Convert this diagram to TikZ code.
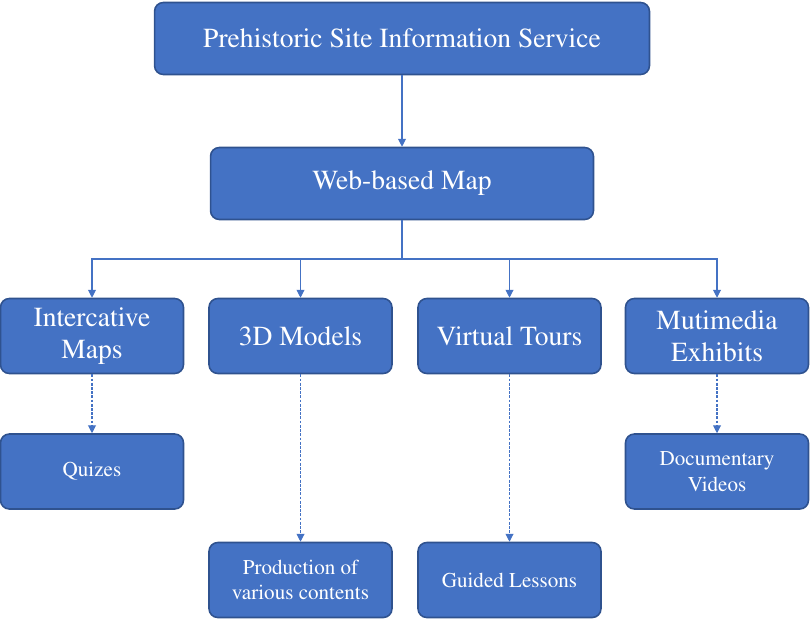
\documentclass[tikz,border=0pt]{standalone}
\usepackage[T1]{fontenc}
\usepackage{times}
\usepackage{xcolor}
\usetikzlibrary{arrows.meta, positioning}
\definecolor{boxblue}{HTML}{4472C4}
\definecolor{boxedge}{HTML}{2F528F}

\begin{document}
\begin{tikzpicture}[
    x=0.02cm, y=-0.02cm,
    caja/.style={draw=boxedge, fill=boxblue, rounded corners=5pt,
                 line width=0.9pt, text=white, align=center,
                 minimum width=3.66cm, minimum height=1.5cm,
                 inner sep=0pt, font=\fontsize{15.7}{18}\selectfont},
    hoja/.style={caja, font=\fontsize{12}{14.5}\selectfont},
    rel/.style={-{Triangle[length=4.5pt, width=4.5pt]}, draw=boxblue,
                line width=0.6pt},
    relp/.style={rel, dash pattern=on 1.6pt off 0.8pt},
]
\useasboundingbox (0,0) rectangle (810,619);

%% Nivel superior
\node[caja, minimum width=9.9cm, minimum height=1.44cm] at (402, 38.5) (top)
     {Prehistoric Site Information Service};
\node[caja, minimum width=7.66cm, minimum height=1.44cm] at (402, 183.5) (web)
     {Web-based Map};

%% Nivel medio
\node[caja] at (92, 336)    (maps)   {Intercative\\Maps};
\node[caja] at (300.5, 336) (models) {3D Models};
\node[caja] at (509.5, 336) (tours)  {Virtual Tours};
\node[caja] at (717, 336)   (media)  {Mutimedia\\Exhibits};

%% Nivel inferior
\node[hoja] at (92, 471.5)  (quiz)  {Quizes};
\node[hoja] at (300.5, 580) (prod)  {Production of\\various contents};
\node[hoja] at (509.5, 580) (guide) {Guided Lessons};
\node[hoja] at (717, 471.5) (docu)  {Documentary\\Videos};

%% Conectores
\coordinate (bus) at (402, 259);
\draw[rel] (top) -- (web);
\draw[boxblue, line width=0.6pt] (web) -- (bus);
\draw[rel] (bus) -| (maps);
\draw[rel] (bus) -| (models);
\draw[rel] (bus) -| (tours);
\draw[rel] (bus) -| (media);

\draw[relp] (maps)   -- (quiz);
\draw[relp] (models) -- (prod);
\draw[relp] (tours)  -- (guide);
\draw[relp] (media)  -- (docu);
\end{tikzpicture}
\end{document}
